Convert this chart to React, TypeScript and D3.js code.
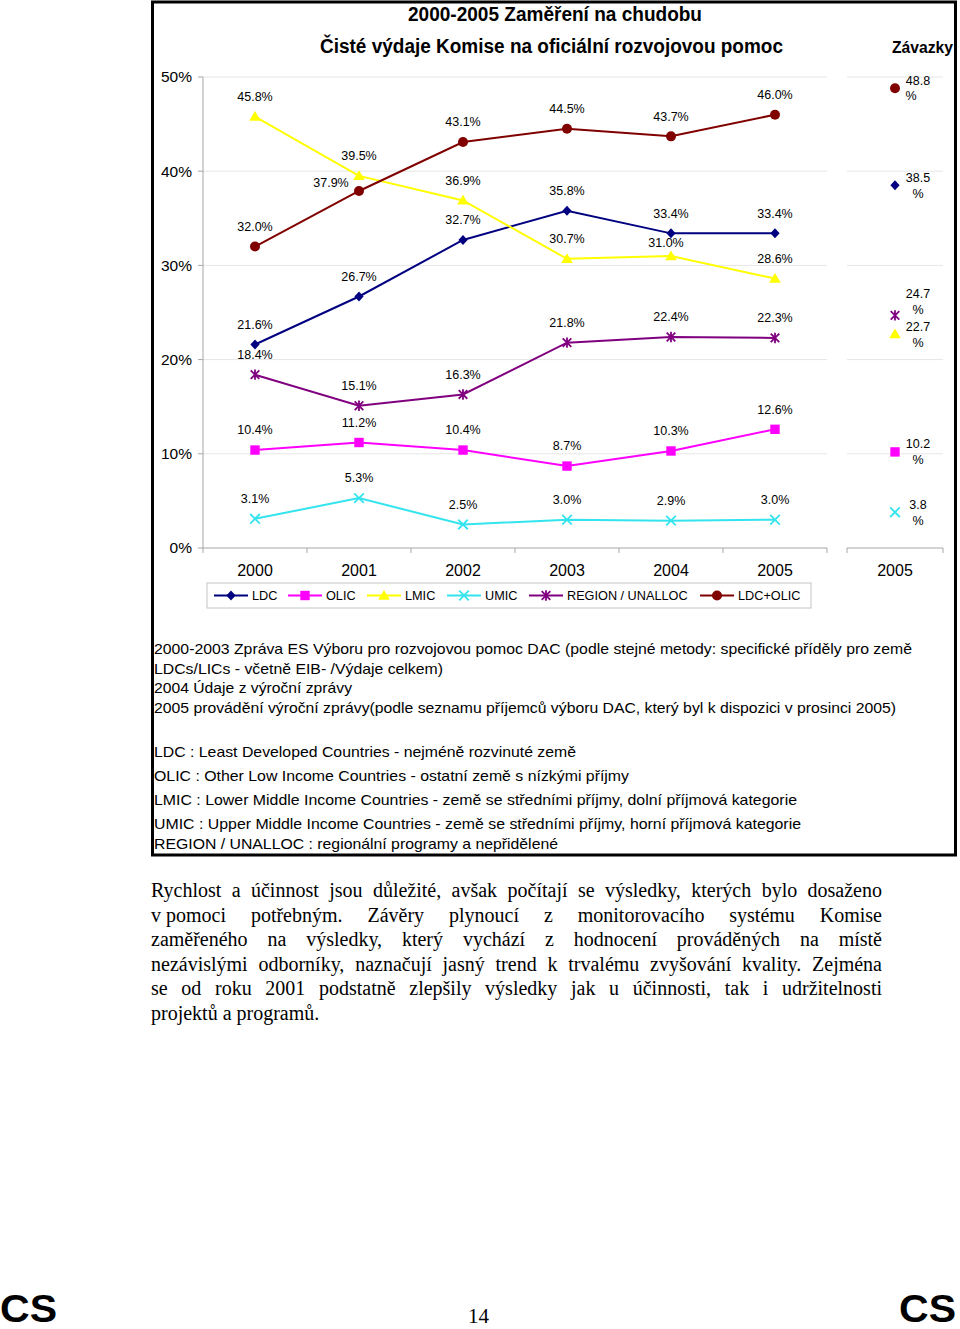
import React from 'react';
import * as d3 from 'd3';

// ---------- DATA ----------
const years = ['2000', '2001', '2002', '2003', '2004', '2005'];
const ldc = [21.6, 26.7, 32.7, 35.8, 33.4, 33.4];
const olic = [10.4, 11.2, 10.4, 8.7, 10.3, 12.6];
const lmic = [45.8, 39.5, 36.9, 30.7, 31.0, 28.6];
const umic = [3.1, 5.3, 2.5, 3.0, 2.9, 3.0];
const region = [18.4, 15.1, 16.3, 21.8, 22.4, 22.3];
const ldcOlic = [32.0, 37.9, 43.1, 44.5, 43.7, 46.0];

const commitYears = ['2005'];
const commitLdc = 38.5;
const commitOlic = 10.2;
const commitLmic = 22.7;
const commitUmic = 3.8;
const commitRegion = 24.7;
const commitLdcOlic = 48.8;

const yTicks = [0, 10, 20, 30, 40, 50];
const seriesNames = ['LDC', 'OLIC', 'LMIC', 'UMIC', 'REGION / UNALLOC', 'LDC+OLIC'];

const title1 = '2000-2005 Zaměření na chudobu';
const title2 = 'Čisté výdaje Komise na oficiální rozvojovou pomoc';
const title3 = 'Závazky';

const notes = [
  '2000-2003 Zpráva ES Výboru pro rozvojovou pomoc DAC (podle stejné metody: specifické příděly pro země',
  'LDCs/LICs - včetně EIB- /Výdaje celkem)',
  '2004 Údaje z výroční zprávy',
  '2005 provádění výroční zprávy(podle seznamu příjemců výboru DAC, který byl k dispozici v prosinci 2005)',
  'LDC : Least Developed Countries - nejméně rozvinuté země',
  'OLIC : Other Low Income Countries - ostatní země s nízkými příjmy',
  'LMIC : Lower Middle Income Countries - země se středními příjmy, dolní příjmová kategorie',
  'UMIC : Upper Middle Income Countries - země se středními příjmy, horní příjmová kategorie',
  'REGION / UNALLOC : regionální programy a nepřidělené',
];

const paragraph = [
  'Rychlost a účinnost jsou důležité, avšak počítají se výsledky, kterých bylo dosaženo',
  'v\u00a0pomoci potřebným. Závěry plynoucí z monitorovacího systému Komise',
  'zaměřeného na výsledky, který vychází z hodnocení prováděných na místě',
  'nezávislými odborníky, naznačují jasný trend k trvalému zvyšování kvality. Zejména',
  'se od roku 2001 podstatně zlepšily výsledky jak u účinnosti, tak i udržitelnosti',
  'projektů a programů.',
];

// ---------- STYLE / LAYOUT ----------
const W = 960;
const H = 1329;
const FONT = 'Liberation Sans, Arial, sans-serif';
const SERIF = 'Liberation Serif, Times New Roman, serif';

type MarkerKind = 'diamond' | 'square' | 'triangle' | 'x' | 'asterisk' | 'circle';
const series = [
  { key: 'ldc', name: seriesNames[0], values: ldc, commit: commitLdc, color: '#000080', marker: 'diamond' as MarkerKind },
  { key: 'olic', name: seriesNames[1], values: olic, commit: commitOlic, color: '#FF00FF', marker: 'square' as MarkerKind },
  { key: 'lmic', name: seriesNames[2], values: lmic, commit: commitLmic, color: '#FFFF00', marker: 'triangle' as MarkerKind },
  { key: 'umic', name: seriesNames[3], values: umic, commit: commitUmic, color: '#33E4EE', marker: 'x' as MarkerKind },
  { key: 'region', name: seriesNames[4], values: region, commit: commitRegion, color: '#800080', marker: 'asterisk' as MarkerKind },
  { key: 'ldcOlic', name: seriesNames[5], values: ldcOlic, commit: commitLdcOlic, color: '#800000', marker: 'circle' as MarkerKind },
];

// layout only
const legendTextX = [252, 326, 405, 485, 567, 738];
const labelNudge: Record<string, [number, number]> = {
  'ldcOlic-1': [-28, 12],
  'lmic-4': [-5, 7],
};
const commitLabelNudge: Record<string, { dy1: number; dy2: number; dx2: number }> = {
  region: { dy1: -22, dy2: -6, dx2: 0 },
  ldcOlic: { dy1: -8, dy2: 7, dx2: -7 },
};

function Marker({ kind, color, x, y }: { kind: MarkerKind; color: string; x: number; y: number }) {
  const t = `translate(${x},${y})`;
  switch (kind) {
    case 'diamond':
      return <path transform={t} d="M0,-5L4.6,0L0,5L-4.6,0Z" fill={color} />;
    case 'square':
      return <path transform={t} d="M-4.7,-4.7h9.4v9.4h-9.4Z" fill={color} />;
    case 'triangle':
      return <path transform={t} d="M0,-5.6L5.8,4.2L-5.8,4.2Z" fill={color} />;
    case 'circle':
      return <circle transform={t} r={5} fill={color} />;
    case 'x':
      return <path transform={t} d="M-4.8,-4.8L4.8,4.8M-4.8,4.8L4.8,-4.8" stroke={color} strokeWidth={1.8} fill="none" />;
    case 'asterisk':
      return <path transform={t} d="M-4.3,-4.3L4.3,4.3M-4.3,4.3L4.3,-4.3M0,-5.2L0,5.2" stroke={color} strokeWidth={1.8} fill="none" />;
  }
  return null;
}

let canvasCtx: CanvasRenderingContext2D | null = null;
function measure(text: string, font: string): number {
  if (!canvasCtx) {
    const c = document.createElement('canvas');
    canvasCtx = c.getContext('2d');
  }
  if (!canvasCtx) return text.length * 8;
  canvasCtx.font = font;
  return canvasCtx.measureText(text).width;
}

export default function App() {
  const x = d3.scaleBand<string>().domain(years).range([203, 827]).padding(0);
  const cx = (yr: string) => (x(yr) as number) + x.bandwidth() / 2;
  const xr = d3.scaleBand<string>().domain(commitYears).range([847, 943]).padding(0);
  const cxr = (yr: string) => (xr(yr) as number) + xr.bandwidth() / 2;
  const y = d3.scaleLinear().domain([0, 50]).range([548, 77]);
  const pct = (v: number) => d3.format('.1f')(v) + '%';

  const line = d3
    .line<number>()
    .x((_, i) => cx(years[i]))
    .y((d) => y(d));

  // paragraph justification
  const pFont = `20px ${SERIF}`;
  const pLeft = 151;
  const pRight = 882;
  const spaceW = measure(' ', pFont);
  const paraWords = paragraph.map((ln, li) => {
    const words = ln.split(' ');
    const widths = words.map((w) => measure(w, pFont));
    const total = widths.reduce((a, b) => a + b, 0);
    const last = li === paragraph.length - 1;
    const gap = last || words.length < 2 ? spaceW : (pRight - pLeft - total) / (words.length - 1);
    let cur = pLeft;
    return words.map((w, i) => {
      const pos = cur;
      cur += widths[i] + gap;
      return { w, pos };
    });
  });

  const noteWidths = [758, 289, 198, 742, 422, 475, 643, 647, 404];
  const noteBaselines = [654, 674, 693, 713, 757, 781, 805, 829, 849];

  return (
    <div style={{ position: 'absolute', left: 0, top: 0 }}>
      <svg width={W} height={H} style={{ display: 'block', background: '#fff' }} fontFamily={FONT}>
        <rect x={0} y={0} width={W} height={H} fill="#fff" />
        {/* frame */}
        <rect x={152.5} y={2} width={803} height={853} fill="none" stroke="#000" strokeWidth={3} />

        {/* titles */}
        <text x={408} y={21} fontSize={19.5} fontWeight="bold" textLength={294} lengthAdjust="spacingAndGlyphs">{title1}</text>
        <text x={320} y={53} fontSize={19.5} fontWeight="bold" textLength={463} lengthAdjust="spacingAndGlyphs">{title2}</text>
        <text x={892} y={53} fontSize={16} fontWeight="bold" textLength={61} lengthAdjust="spacingAndGlyphs">{title3}</text>

        {/* gridlines */}
        {yTicks.filter((t) => t > 0).map((t) => (
          <g key={'g' + t}>
            <line x1={203} x2={827} y1={y(t)} y2={y(t)} stroke="#e6e6e6" strokeWidth={1} />
            <line x1={847} x2={943} y1={y(t)} y2={y(t)} stroke="#e6e6e6" strokeWidth={1} />
          </g>
        ))}

        {/* y axis */}
        <line x1={203} x2={203} y1={y(50)} y2={y(0)} stroke="#a6a6a6" />
        {yTicks.map((t) => (
          <g key={'yt' + t}>
            <line x1={198} x2={203} y1={y(t)} y2={y(t)} stroke="#a6a6a6" />
            <text x={192} y={y(t)} dy="0.35em" textAnchor="end" fontSize={15.5}>{`${t}%`}</text>
          </g>
        ))}

        {/* x axis main */}
        <line x1={203} x2={827} y1={y(0)} y2={y(0)} stroke="#a6a6a6" />
        {years.map((yr) => (
          <line key={'xt' + yr} x1={(x(yr) as number) + x.bandwidth()} x2={(x(yr) as number) + x.bandwidth()} y1={y(0)} y2={y(0) + 5} stroke="#a6a6a6" />
        ))}
        <line x1={203} x2={203} y1={y(0)} y2={y(0) + 5} stroke="#a6a6a6" />
        {years.map((yr) => (
          <text key={'xl' + yr} x={cx(yr)} y={576} textAnchor="middle" fontSize={16}>{yr}</text>
        ))}

        {/* x axis right panel */}
        <line x1={847} x2={943} y1={y(0)} y2={y(0)} stroke="#a6a6a6" />
        <line x1={847} x2={847} y1={y(0)} y2={y(0) + 5} stroke="#a6a6a6" />
        <line x1={943} x2={943} y1={y(0)} y2={y(0) + 5} stroke="#a6a6a6" />
        {commitYears.map((yr) => (
          <text key={'xr' + yr} x={cxr(yr)} y={576} textAnchor="middle" fontSize={16}>{yr}</text>
        ))}

        {/* series lines */}
        {series.map((s) => (
          <path key={'l' + s.key} d={line(s.values) || ''} fill="none" stroke={s.color} strokeWidth={2} />
        ))}
        {/* markers */}
        {series.map((s) => (
          <g key={'m' + s.key}>
            {s.values.map((v, i) => (
              <Marker key={i} kind={s.marker} color={s.color} x={cx(years[i])} y={y(v)} />
            ))}
          </g>
        ))}
        {/* data labels */}
        {series.map((s) => (
          <g key={'dl' + s.key} fontSize={12.5}>
            {s.values.map((v, i) => {
              const n = labelNudge[`${s.key}-${i}`] || [0, 0];
              return (
                <text key={i} x={cx(years[i]) + n[0]} y={y(v) - 20 + n[1]} dy="0.35em" textAnchor="middle">
                  {pct(v)}
                </text>
              );
            })}
          </g>
        ))}

        {/* right panel commitments */}
        {series.map((s) => {
          const px = cxr(commitYears[0]);
          const py = y(s.commit);
          const nn = commitLabelNudge[s.key] || { dy1: -8, dy2: 8, dx2: 0 };
          return (
            <g key={'c' + s.key}>
              <Marker kind={s.marker} color={s.color} x={px} y={py} />
              <text x={px + 23} y={py + nn.dy1} dy="0.35em" textAnchor="middle" fontSize={12.5}>
                {d3.format('.1f')(s.commit)}
              </text>
              <text x={px + 23 + nn.dx2} y={py + nn.dy2} dy="0.35em" textAnchor="middle" fontSize={12.5}>%</text>
            </g>
          );
        })}

        {/* legend */}
        <rect x={207} y={583} width={604} height={25} fill="#fff" stroke="#c4c4c4" />
        {series.map((s, i) => {
          const tx = legendTextX[i];
          return (
            <g key={'lg' + s.key}>
              <line x1={tx - 38} x2={tx - 4} y1={595.5} y2={595.5} stroke={s.color} strokeWidth={2} />
              <Marker kind={s.marker} color={s.color} x={tx - 21} y={595.5} />
              <text x={tx} y={595.5} dy="0.35em" fontSize={12.7}>{s.name}</text>
            </g>
          );
        })}

        {/* notes */}
        {notes.map((n, i) => (
          <text key={'n' + i} x={154} y={noteBaselines[i]} fontSize={15} textLength={noteWidths[i]} lengthAdjust="spacingAndGlyphs">{n}</text>
        ))}

        {/* paragraph */}
        {paraWords.map((ws, li) => (
          <g key={'p' + li}>
            {ws.map((w, wi) => (
              <text key={wi} x={w.pos} y={897 + li * 24.6} fontFamily={SERIF} fontSize={20}>{w.w}</text>
            ))}
          </g>
        ))}

        {/* footer */}
        <text x={0} y={1322} fontSize={38} fontWeight="bold" textLength={57} lengthAdjust="spacingAndGlyphs">CS</text>
        <text x={899} y={1322} fontSize={38} fontWeight="bold" textLength={57} lengthAdjust="spacingAndGlyphs">CS</text>
        <text x={468} y={1323} fontFamily={SERIF} fontSize={21} textLength={21} lengthAdjust="spacingAndGlyphs">14</text>
      </svg>
    </div>
  );
}
